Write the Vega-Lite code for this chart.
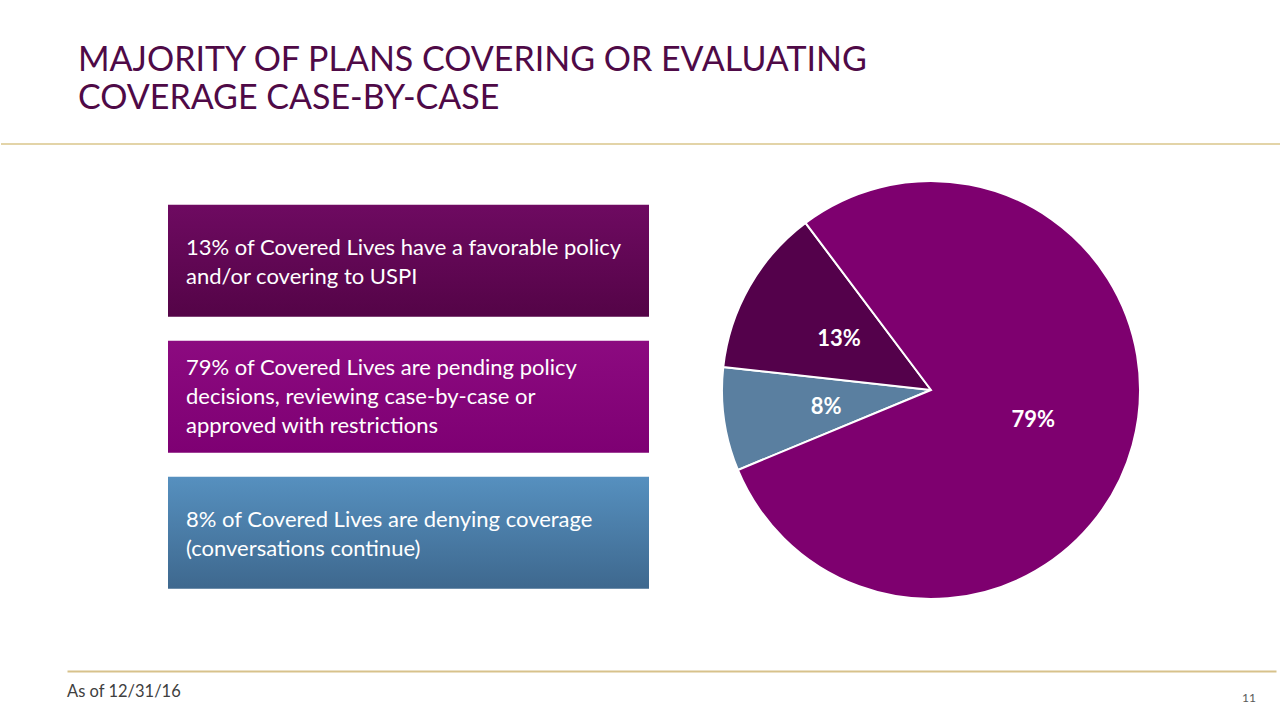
{
  "$schema": "https://vega.github.io/schema/vega-lite/v6.json",
  "background": "white",
  "padding": {"left": 0, "top": 44, "right": 0, "bottom": 6},
  "datasets": {
    "segments": [
      {"category": "Denying coverage", "value": 8, "label": "8%", "lines": ["8% of Covered Lives are denying coverage", "(conversations continue)"]},
      {"category": "Favorable policy", "value": 13, "label": "13%", "lines": ["13% of Covered Lives have a favorable policy", "and/or covering to USPI"]},
      {"category": "Pending / case-by-case", "value": 79, "label": "79%", "lines": ["79% of Covered Lives are pending policy", "decisions, reviewing case-by-case or", "approved with restrictions"]}
    ]
  },
  "title": {
    "text": ["MAJORITY OF PLANS COVERING OR EVALUATING", "COVERAGE CASE-BY-CASE"],
    "anchor": "start",
    "dx": 78,
    "font": "Lato",
    "fontSize": 34,
    "fontWeight": "normal",
    "color": "#4F0A47",
    "lineHeight": 38,
    "baseline": "top",
    "offset": 27
  },
  "spacing": 32,
  "vconcat": [
    {
      "width": 1280,
      "height": 2,
      "data": {"values": [{"line": "top"}]},
      "mark": {"type": "rule", "color": "#E3D4A8", "strokeWidth": 2},
      "encoding": {"y": {"field": "line", "type": "nominal", "axis": null}}
    },
    {
      "spacing": 69,
      "hconcat": [
        {"width": 98, "height": 1, "data": {"values": []}, "mark": "point"},
        {
          "width": 481,
          "height": 458,
          "data": {"name": "segments"},
          "layer": [
            {
              "transform": [{"filter": "datum.category === 'Favorable policy'"}],
              "mark": {"type": "rect", "fill": {"gradient": "linear", "x1": 0, "y1": 0, "x2": 0, "y2": 1, "stops": [{"offset": 0, "color": "#6E0A61"}, {"offset": 1, "color": "#540447"}]}},
              "encoding": {
                "y": {"field": "category", "type": "nominal", "axis": null, "scale": {"type": "band", "domain": ["Favorable policy", "Pending / case-by-case", "Denying coverage"], "paddingInner": 0.1765, "paddingOuter": 0.272, "align": 0.32}},
                "x": {"datum": 0, "type": "quantitative", "axis": null, "scale": {"domain": [0, 1], "nice": false}},
                "x2": {"datum": 1}
              }
            },
            {
              "transform": [{"filter": "datum.category === 'Pending / case-by-case'"}],
              "mark": {"type": "rect", "fill": {"gradient": "linear", "x1": 0, "y1": 0, "x2": 0, "y2": 1, "stops": [{"offset": 0, "color": "#8C0A80"}, {"offset": 1, "color": "#7E0073"}]}},
              "encoding": {
                "y": {"field": "category", "type": "nominal"},
                "x": {"datum": 0, "type": "quantitative"},
                "x2": {"datum": 1}
              }
            },
            {
              "transform": [{"filter": "datum.category === 'Denying coverage'"}],
              "mark": {"type": "rect", "fill": {"gradient": "linear", "x1": 0, "y1": 0, "x2": 0, "y2": 1, "stops": [{"offset": 0, "color": "#5690BF"}, {"offset": 1, "color": "#3E688E"}]}},
              "encoding": {
                "y": {"field": "category", "type": "nominal"},
                "x": {"datum": 0, "type": "quantitative"},
                "x2": {"datum": 1}
              }
            },
            {
              "transform": [{"filter": "datum.category !== 'Pending / case-by-case'"}],
              "mark": {"type": "text", "align": "left", "baseline": "middle", "dx": 18, "dy": -13, "font": "Lato", "fontSize": 22, "lineHeight": 29, "color": "white"},
              "encoding": {
                "y": {"field": "category", "type": "nominal"},
                "x": {"datum": 0, "type": "quantitative"},
                "text": {"field": "lines"}
              }
            },
            {
              "transform": [{"filter": "datum.category === 'Pending / case-by-case'"}],
              "mark": {"type": "text", "align": "left", "baseline": "middle", "dx": 18, "dy": -29, "font": "Lato", "fontSize": 22, "lineHeight": 29, "color": "white"},
              "encoding": {
                "y": {"field": "category", "type": "nominal"},
                "x": {"datum": 0, "type": "quantitative"},
                "text": {"field": "lines"}
              }
            }
          ]
        },
        {
          "width": 418,
          "height": 418,
          "data": {"name": "segments"},
          "layer": [
            {
              "mark": {"type": "arc", "stroke": "white", "strokeWidth": 2},
              "encoding": {
                "theta": {"field": "value", "type": "quantitative", "stack": true, "scale": {"range": [-1.9635, 4.3197]}},
                "color": {"field": "category", "type": "nominal", "legend": null, "scale": {"domain": ["Denying coverage", "Favorable policy", "Pending / case-by-case"], "range": ["#5A7FA0", "#54014B", "#7E006F"]}},
                "order": {"field": "category", "type": "ordinal", "sort": "ascending"}
              }
            },
            {
              "mark": {"type": "text", "radius": 106, "dy": 2, "font": "Lato", "fontSize": 22, "fontWeight": "bold", "color": "white"},
              "encoding": {
                "theta": {"field": "value", "type": "quantitative", "stack": true},
                "order": {"field": "category", "type": "ordinal", "sort": "ascending"},
                "text": {"field": "label"}
              }
            }
          ]
        }
      ]
    },
    {
      "spacing": 0,
      "hconcat": [
        {"width": 66, "height": 1, "data": {"values": []}, "mark": "point"},
        {
          "width": 1209,
          "height": 44,
          "data": {"values": [{"side": "left", "note": "As of 12/31/16"}, {"side": "right", "note": "11"}]},
          "layer": [
            {
              "transform": [{"filter": "datum.side === 'left'"}],
              "mark": {"type": "text", "align": "left", "baseline": "middle", "dy": -1, "font": "Lato", "fontSize": 16.5, "color": "#404040"},
              "encoding": {
                "x": {"field": "side", "type": "nominal", "scale": {"type": "point", "padding": 0, "domain": ["left", "right"]}, "axis": {"orient": "top", "title": null, "labels": false, "ticks": false, "grid": false, "domainColor": "#D7C28B", "domainWidth": 2}},
                "text": {"field": "note"}
              }
            },
            {
              "transform": [{"filter": "datum.side === 'right'"}],
              "mark": {"type": "text", "align": "right", "baseline": "middle", "dx": -20, "dy": 5, "font": "Lato", "fontSize": 12, "color": "#595959"},
              "encoding": {
                "x": {"field": "side", "type": "nominal"},
                "text": {"field": "note"}
              }
            }
          ]
        }
      ]
    }
  ],
  "config": {"view": {"stroke": null}}
}
